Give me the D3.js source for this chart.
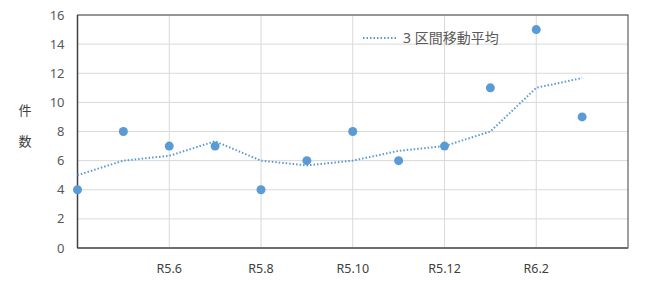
<!DOCTYPE html>
<head>
  <meta charset="utf-8">
  <script src="https://d3js.org/d3.v7.min.js"></script>
  <style>
    body { margin: 0; background: #fff; }
    text { font-family: "Noto Sans", "Noto Sans CJK JP", sans-serif; }
  </style>
</head>

<body>
  <script>
    // data
    var months = ["R5.4", "R5.5", "R5.6", "R5.7", "R5.8", "R5.9", "R5.10", "R5.11", "R5.12", "R6.1", "R6.2", "R6.3"];
    var counts = [4, 8, 7, 7, 4, 6, 8, 6, 7, 11, 15, 9];
    var movingAvg = [5, 6, 6.33, 7.33, 6, 5.67, 6, 6.67, 7, 8, 11, 11.67];
    var yTicks = [0, 2, 4, 6, 8, 10, 12, 14, 16];
    var xTickLabels = ["R5.6", "R5.8", "R5.10", "R5.12", "R6.2"];

    var margin = {top: 15, right: 22, bottom: 36, left: 77.5};
    var width = 650 - margin.left - margin.right,
        height = 284 - margin.top - margin.bottom;

    var svg = d3.select("body").append("svg")
        .attr("width", 650)
        .attr("height", 284);

    var g = svg.append("g")
        .attr("transform", "translate(" + margin.left + "," + margin.top + ")");

    var x = d3.scaleLinear().domain([0, 12]).range([0, width]);
    var y = d3.scaleLinear().domain([0, 16]).range([height, 0]);

    // horizontal grid
    g.append("g").selectAll("line")
      .data(yTicks.slice(1))
      .enter().append("line")
        .attr("x1", 0).attr("x2", width)
        .attr("y1", y).attr("y2", y)
        .attr("stroke", "#d9d9d9");

    // vertical grid at labelled months
    g.append("g").selectAll("line")
      .data(xTickLabels)
      .enter().append("line")
        .attr("x1", function(d) { return x(months.indexOf(d)); })
        .attr("x2", function(d) { return x(months.indexOf(d)); })
        .attr("y1", 0).attr("y2", height)
        .attr("stroke", "#d9d9d9");

    // frame
    g.append("rect")
        .attr("width", width).attr("height", height)
        .attr("fill", "none")
        .attr("stroke", "#404040");

    g.append("line")
        .attr("x1", 0).attr("x2", width)
        .attr("y1", height).attr("y2", height)
        .attr("stroke", "#6e6e6e").attr("stroke-width", 2);
    g.append("line")
        .attr("x1", 0).attr("x2", 0)
        .attr("y1", 0).attr("y2", height)
        .attr("stroke", "#404040").attr("stroke-width", 1.5);

    // y axis labels
    g.append("g").selectAll("text")
      .data(yTicks)
      .enter().append("text")
        .attr("x", -13)
        .attr("y", y)
        .attr("dy", "0.35em")
        .attr("text-anchor", "end")
        .attr("fill", "#595959")
        .style("font-size", "13px")
        .text(function(d) { return d; });

    // x axis labels
    g.append("g").selectAll("text")
      .data(xTickLabels)
      .enter().append("text")
        .attr("x", function(d) { return x(months.indexOf(d)); })
        .attr("y", height + 25)
        .attr("text-anchor", "middle")
        .attr("fill", "#404040")
        .style("font-size", "12.5px")
        .text(function(d) { return d; });

    // y title
    svg.append("text").attr("x", 25).attr("y", 115)
        .attr("text-anchor", "middle").attr("fill", "#404040")
        .style("font-size", "13px").text("件");
    svg.append("text").attr("x", 25).attr("y", 146)
        .attr("text-anchor", "middle").attr("fill", "#404040")
        .style("font-size", "13px").text("数");

    // moving average
    var line = d3.line()
        .x(function(d, i) { return x(i); })
        .y(function(d) { return y(d); });

    g.append("path")
        .datum(movingAvg)
        .attr("fill", "none")
        .attr("stroke", "#5b9bd5")
        .attr("stroke-width", 2)
        .attr("stroke-dasharray", "1.5,2")
        .attr("d", line);

    // points
    g.append("g").selectAll("circle")
      .data(counts)
      .enter().append("circle")
        .attr("cx", function(d, i) { return x(i); })
        .attr("cy", y)
        .attr("r", 4.5)
        .attr("fill", "#5b9bd5");

    // legend
    var legend = svg.append("g").attr("transform", "translate(363,38)");
    legend.append("line")
        .attr("x1", 0).attr("x2", 33)
        .attr("stroke", "#5b9bd5")
        .attr("stroke-width", 2)
        .attr("stroke-dasharray", "1.5,2");
    legend.append("text")
        .attr("x", 40).attr("dy", "0.35em")
        .attr("fill", "#595959")
        .style("font-size", "14px")
        .text("3 区間移動平均");
  </script>
</body>
